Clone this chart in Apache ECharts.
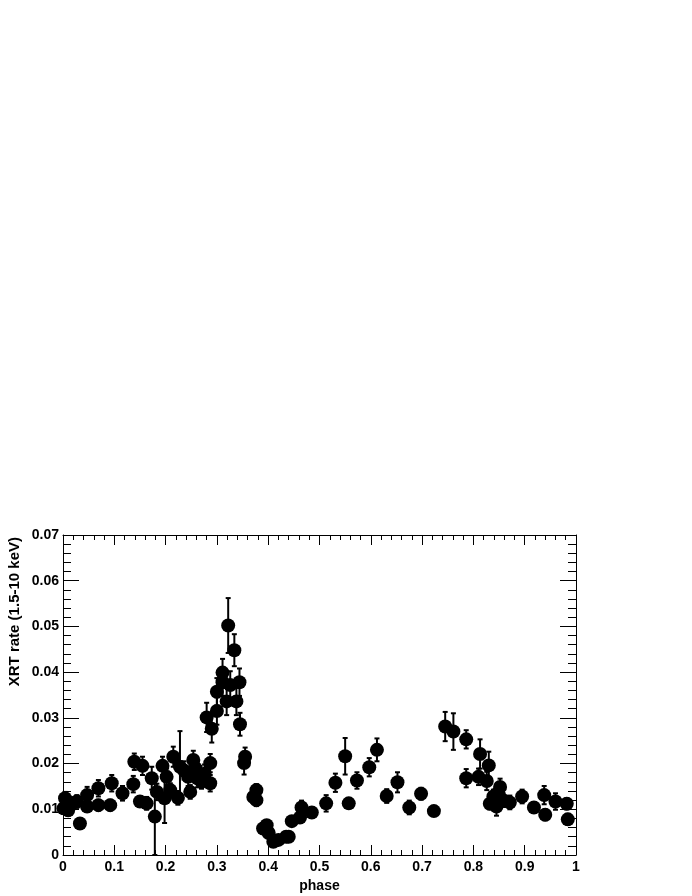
<!DOCTYPE html>
<html>
<head>
<meta charset="utf-8">
<script src="https://cdn.jsdelivr.net/npm/echarts@6/dist/echarts.min.js"></script>
<style>
html,body{margin:0;padding:0;background:#fff;}
#chart{width:692px;height:896px;}
</style>
</head>
<body>
<div id="chart"></div>
<script>
const phase = [0.001,0.004,0.010,0.017,0.027,0.033,0.047,0.047,0.069,0.069,0.092,0.095,0.116,0.139,0.137,0.150,0.155,0.163,0.173,0.179,0.183,0.194,0.198,0.202,0.209,0.215,0.224,0.228,0.236,0.244,0.248,0.254,0.258,0.262,0.267,0.270,0.276,0.280,0.287,0.287,0.290,0.300,0.300,0.311,0.311,0.319,0.322,0.326,0.334,0.338,0.344,0.345,0.353,0.355,0.371,0.377,0.377,0.390,0.397,0.401,0.410,0.420,0.435,0.440,0.446,0.462,0.465,0.485,0.513,0.531,0.550,0.557,0.573,0.597,0.612,0.631,0.652,0.675,0.698,0.723,0.745,0.761,0.786,0.786,0.810,0.813,0.830,0.826,0.832,0.839,0.845,0.848,0.852,0.858,0.871,0.895,0.918,0.938,0.940,0.960,0.982,0.984];
const rate = [0.0102,0.0124,0.0098,0.0113,0.0117,0.0069,0.0131,0.0106,0.0146,0.0109,0.0109,0.0157,0.0135,0.0204,0.0155,0.0117,0.0195,0.0113,0.0168,0.0084,0.0138,0.0195,0.0124,0.0171,0.0142,0.0215,0.0125,0.0193,0.0185,0.0171,0.0138,0.0208,0.0190,0.0168,0.0175,0.0160,0.0178,0.0301,0.0201,0.0157,0.0276,0.0357,0.0315,0.0399,0.0378,0.0336,0.0502,0.0372,0.0448,0.0336,0.0378,0.0286,0.0201,0.0215,0.0127,0.0142,0.0120,0.0058,0.0065,0.0048,0.0029,0.0033,0.0040,0.0040,0.0074,0.0082,0.0104,0.0093,0.0113,0.0158,0.0216,0.0113,0.0163,0.0192,0.0230,0.0129,0.0159,0.0104,0.0134,0.0096,0.0281,0.0270,0.0253,0.0168,0.0171,0.0221,0.0196,0.0162,0.0112,0.0128,0.0106,0.0135,0.0149,0.0120,0.0115,0.0128,0.0104,0.0131,0.0088,0.0117,0.0112,0.0078];
const rateErr = [0.0012,0.0014,0.0012,0.0012,0.0014,0.0008,0.0018,0.0012,0.0018,0.0012,0.0012,0.0018,0.0016,0.0018,0.0018,0.0012,0.0020,0.0014,0.0025,0.0084,0.0018,0.0020,0.0054,0.0018,0.0015,0.0022,0.0015,0.0078,0.0020,0.0020,0.0015,0.0020,0.0020,0.0020,0.0020,0.0015,0.0020,0.0032,0.0020,0.0018,0.0030,0.0030,0.0030,0.0030,0.0030,0.0030,0.0060,0.0030,0.0035,0.0030,0.0030,0.0025,0.0025,0.0020,0.0013,0.0013,0.0013,0.0008,0.0008,0.0006,0.0006,0.0006,0.0006,0.0006,0.0008,0.0012,0.0015,0.0012,0.0018,0.0020,0.0040,0.0008,0.0018,0.0020,0.0025,0.0015,0.0022,0.0015,0.0013,0.0010,0.0032,0.0040,0.0020,0.0020,0.0018,0.0032,0.0030,0.0020,0.0012,0.0015,0.0020,0.0018,0.0018,0.0015,0.0015,0.0015,0.0012,0.0020,0.0012,0.0018,0.0012,0.0012];
const xTitle = 'phase';
const yTitle = 'XRT rate (1.5-10 keV)';

const points = phase.map((p, i) => [p, rate[i], rateErr[i]]);
const FONT = 'Liberation Sans, Arial, Helvetica, sans-serif';

const chart = echarts.init(document.getElementById('chart'), null, {renderer: 'canvas'});

const xBase = {
  type: 'value', min: 0, max: 1, interval: 0.1,
  axisLine: {show: true, onZero: false, lineStyle: {color: '#000', width: 1}},
  axisTick: {show: true, inside: true, length: 10, lineStyle: {color: '#000', width: 1}},
  minorTick: {show: true, splitNumber: 5, length: 5, lineStyle: {color: '#000', width: 1}},
  splitLine: {show: false}
};
const yBase = {
  type: 'value', min: 0, max: 0.07, interval: 0.01,
  axisLine: {show: true, onZero: false, lineStyle: {color: '#000', width: 1}},
  axisTick: {show: true, inside: true, length: 16, lineStyle: {color: '#000', width: 1}},
  minorTick: {show: true, splitNumber: 5, length: 8, lineStyle: {color: '#000', width: 1}},
  splitLine: {show: false}
};

chart.setOption({
  animation: false,
  backgroundColor: '#fff',
  grid: {left: 63, right: 116, top: 535, bottom: 41, containLabel: false},
  xAxis: [
    Object.assign({}, xBase, {
      position: 'bottom',
      name: xTitle, nameLocation: 'middle', nameGap: 24,
      nameTextStyle: {fontFamily: FONT, fontWeight: 'bold', fontSize: 14, color: '#000'},
      axisLabel: {show: true, margin: 5, fontFamily: FONT, fontWeight: 'bold', fontSize: 14, color: '#000',
        formatter: v => String(+v.toFixed(1))}
    }),
    Object.assign({}, xBase, {position: 'top', axisLabel: {show: false}})
  ],
  yAxis: [
    Object.assign({}, yBase, {
      position: 'left',
      axisLabel: {show: true, margin: 4, fontFamily: FONT, fontWeight: 'bold', fontSize: 14, color: '#000',
        formatter: v => String(+v.toFixed(2))}
    }),
    Object.assign({}, yBase, {position: 'right', axisLabel: {show: false}})
  ],
  graphic: [{
    type: 'text',
    x: 15, y: 537,
    rotation: Math.PI / 2,
    style: {
      text: yTitle,
      fontFamily: FONT, fontWeight: 'bold', fontSize: 15, fill: '#000',
      align: 'right', verticalAlign: 'middle'
    }
  }],
  series: [
    {
      type: 'custom',
      xAxisIndex: 0, yAxisIndex: 0,
      data: points,
      z: 2,
      renderItem: function (params, api) {
        const x = api.value(0), y = api.value(1), e = api.value(2);
        const top = api.coord([x, y + e]);
        const bot = api.coord([x, Math.max(0, y - e)]);
        const hw = 2.5;
        const st = {stroke: '#000', lineWidth: 2};
        return {
          type: 'group',
          children: [
            {type: 'line', shape: {x1: top[0], y1: top[1], x2: bot[0], y2: bot[1]}, style: st},
            {type: 'line', shape: {x1: top[0] - hw, y1: top[1], x2: top[0] + hw, y2: top[1]}, style: st},
            {type: 'line', shape: {x1: bot[0] - hw, y1: bot[1], x2: bot[0] + hw, y2: bot[1]}, style: st}
          ]
        };
      }
    },
    {
      type: 'scatter',
      xAxisIndex: 0, yAxisIndex: 0,
      data: points.map(p => [p[0], p[1]]),
      symbol: 'circle',
      symbolSize: 14,
      itemStyle: {color: '#000', opacity: 1},
      emphasis: {disabled: true},
      z: 3
    }
  ]
});
</script>
</body>
</html>
